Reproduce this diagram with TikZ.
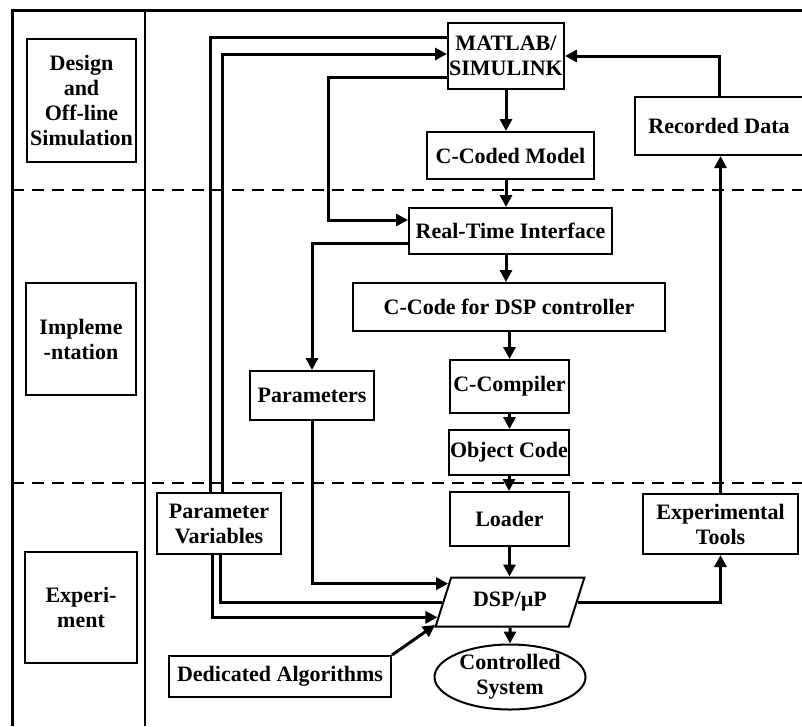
\documentclass[tikz,border=0pt]{standalone}
\usepackage{fontspec}
\setmainfont{Liberation Serif}
\usetikzlibrary{arrows.meta,positioning,calc,shapes.geometric}

\begin{document}
\begin{tikzpicture}[x=1pt,y=-1pt, every node/.style={font=\bfseries\fontsize{22}{25}\selectfont}, blk/.style={draw,line width=2pt,align=center,inner sep=0pt}, ln/.style={line width=3pt}, arr/.style={line width=3pt,-{Triangle[length=12pt,width=12pt]}}, phase/.style={line width=2.5pt,dash pattern=on 12pt off 8pt}]
\useasboundingbox (0,0) rectangle (802,726);
% frame
\draw[line width=3pt] (802,10) -- (12,10) -- (12,726);
\draw[line width=2pt] (145,10) -- (145,726);
\draw[phase] (12,190) -- (802,190);
\draw[phase] (12,483) -- (802,483);
% phase labels
\node[blk,minimum width=109pt,minimum height=123pt] (design) at (81.5,100.5) {Design\\and\\Off-line\\Simulation};
\node[blk,minimum width=110pt,minimum height=112pt] (impl) at (81,339) {Impleme\\-ntation};
\node[blk,minimum width=112pt,minimum height=111pt] (exper) at (81,607.5) {Experi-\\ment};
% blocks
\node[blk,minimum width=116pt,minimum height=66pt] (matlab) at (506,56) {MATLAB/\\SIMULINK};
\node[blk,minimum width=167pt,minimum height=47pt] (ccoded) at (510.5,155.5) {C-Coded Model};
\node[blk,minimum width=203pt,minimum height=46pt] (rti) at (510.5,231) {Real-Time Interface};
\node[blk,minimum width=312pt,minimum height=48pt] (ccode) at (509,307) {C-Code for DSP controller};
\node[blk,minimum width=119pt,minimum height=53pt] (ccomp) at (509.5,386.5) {C-Compiler};
\node[blk,minimum width=120pt,minimum height=45pt] (objcode) at (509,452.5) {Object Code};
\node[blk,minimum width=119pt,minimum height=54pt] (loader) at (509.5,519) {Loader};
\node[blk,minimum width=124pt,minimum height=49pt] (params) at (312,395.5) {Parameters};
\node[blk,minimum width=124pt,minimum height=61pt] (parvars) at (219,523.5) {Parameter\\Variables};
\node[blk,minimum width=222pt,minimum height=41pt] (dedalg) at (280,676.5) {Dedicated Algorithms};
\node[draw,line width=2pt,trapezium,trapezium left angle=63,trapezium right angle=117,trapezium stretches=true,minimum width=149pt,minimum height=49pt,inner sep=0pt] (dsp) at (510,602) {DSP/µP};
\node[draw,line width=2pt,ellipse,align=center,minimum width=151pt,minimum height=65pt,inner sep=0pt] (ctrl) at (510,677) {Controlled\\System};
\node[blk,minimum width=155pt,minimum height=60pt] (exptools) at (720.5,524) {Experimental\\Tools};
\node[blk,minimum width=168pt,minimum height=58pt] (recdata) at (719,126) {Recorded Data};
% main chain
\draw[arr] (matlab.south) -- (matlab.south |- ccoded.north);
\draw[arr] (matlab.south |- ccoded.south) -- (matlab.south |- rti.north);
\draw[arr] (matlab.south |- rti.south) -- (matlab.south |- ccode.north);
\draw[arr] (ccomp.north |- ccode.south) -- (ccomp.north);
\draw[arr] (ccomp.south) -- (objcode.north -| ccomp.south);
\draw[arr] (objcode.south) -- (loader.north -| objcode.south);
\draw[arr] (loader.south) -- (dsp.north -| loader.south);
\draw[arr] (dsp.south) -- (ctrl.north);
% feedback loop
\draw[arr] (dsp.east) -| (exptools.south);
\draw[arr] (exptools.north) -- (exptools.north |- recdata.south);
\draw[arr] (recdata.north) |- (matlab.east);
% parameter paths
\draw[arr] ($(rti.west)+(0,12)$) -| (params.north);
\draw[arr] (params.south) |- ($(dsp.top left corner)!0.14!(dsp.bottom left corner)$);
\draw[ln] ($(parvars.north)+(-9,0)$) |- ($(matlab.west)+(0,-19)$);
\draw[arr] ($(parvars.north)+(3,0)$) |- ($(matlab.west)+(0,-2)$);
\draw[arr] ($(matlab.west)+(0,21)$) -- ++(-119,0) |- ($(rti.west)+(0,-11)$);
\draw[ln] ($(parvars.south)+(1,0)$) |- (dsp.west);
\draw[arr] ($(parvars.south)+(-7,0)$) |- ($(dsp.top left corner)!0.8!(dsp.bottom left corner)$);
\draw[arr] (dedalg.north east) -- ($(dsp.top left corner)!0.95!(dsp.bottom left corner)$);
\end{tikzpicture}
\end{document}
